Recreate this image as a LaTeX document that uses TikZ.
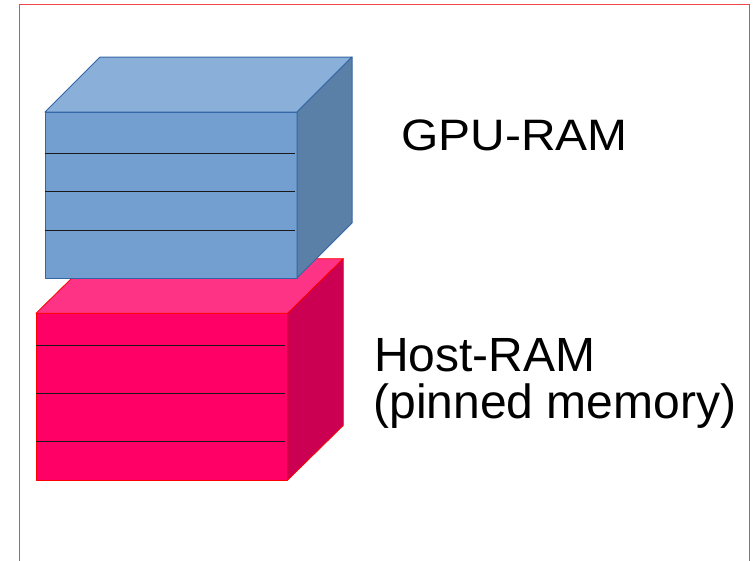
\documentclass[tikz,border=0pt]{standalone}
\usepackage{fontspec}
\setmainfont{Liberation Sans}
\newfontfamily\gpufont[FakeStretch=1.09]{Liberation Sans}
\usepackage{xcolor}
\usepackage{tikz}
\usetikzlibrary{calc}

\definecolor{gpufront}{HTML}{729FCF}
\definecolor{gputop}{HTML}{8AB0D9}
\definecolor{gpuside}{HTML}{5B80A7}
\definecolor{gpuline}{HTML}{3465A4}
\definecolor{hostfront}{HTML}{FF0066}
\definecolor{hosttop}{HTML}{FF3385}
\definecolor{hostside}{HTML}{CC0052}
\definecolor{framered}{HTML}{F04848}

\begin{document}
\begin{tikzpicture}[x=1pt,y=-1pt]
    \tikzstyle{frame}=[color=framered,line width=0.8pt]
    \tikzstyle{gpu edge}=[draw=gpuline,line width=1pt,line join=round]
    \tikzstyle{host edge}=[draw=red,line width=0.8pt,line join=round]
    \tikzstyle{layer}=[color=black!90,line width=0.9pt]
    \tikzstyle{label}=[anchor=base west,inner sep=0pt]

    \useasboundingbox (0,0) rectangle (754,560);
    \clip (0,0) rectangle (754,560);
    \draw[style=frame] (19.5,4.5) rectangle (749,575);

	\coordinate (h_tl) at (36,313.3);
	\coordinate (h_br) at (287.7,480);
	\coordinate (h_tr) at (h_br |- h_tl);
	\coordinate (h_d) at (55.6,-54.6);

	\coordinate (g_tl) at (45,112);
	\coordinate (g_br) at (297,278);
	\coordinate (g_tr) at (g_br |- g_tl);
	\coordinate (g_d) at (55,-55);

    % Host box
    \filldraw[style=host edge,fill=hostfront] (h_tl) rectangle (h_br);
    \filldraw[style=host edge,fill=hosttop] (h_tl)--($(h_tl)+(h_d)$)--($(h_tr)+(h_d)$)--(h_tr)--cycle;
    \filldraw[style=host edge,fill=hostside] (h_tr)--($(h_tr)+(h_d)$)--($(h_br)+(h_d)$)--(h_br)--cycle;
	\draw[style=layer] (36,345.7) -- (285.3,345.7);
	\draw[style=layer] (36,393.3) -- (285.3,393.3);
	\draw[style=layer] (36,441.3) -- (285.3,441.3);

    % GPU box
    \filldraw[style=gpu edge,fill=gpufront] (g_tl) rectangle (g_br);
    \filldraw[style=gpu edge,fill=gputop] (g_tl)--($(g_tl)+(g_d)$)--($(g_tr)+(g_d)$)--(g_tr)--cycle;
    \filldraw[style=gpu edge,fill=gpuside] (g_tr)--($(g_tr)+(g_d)$)--($(g_br)+(g_d)$)--(g_br)--cycle;
	\draw[style=layer] (45,153.5) -- (295,153.5);
	\draw[style=layer] (45,191.5) -- (295,191.5);
	\draw[style=layer] (45,230) -- (295,230);

    % Labels
	\node[style=label,font=\gpufont\fontsize{44}{50}\selectfont] (gpu) at (401,150.7) {GPU-RAM};
	\node[style=label,font=\fontsize{48}{50}\selectfont] (host) at (373.8,371.7) {Host-RAM};
	\node[style=label,font=\fontsize{48}{50}\selectfont] (pinned) at (373.2,418.3) {(pinned memory)};

\end{tikzpicture}
\end{document}
